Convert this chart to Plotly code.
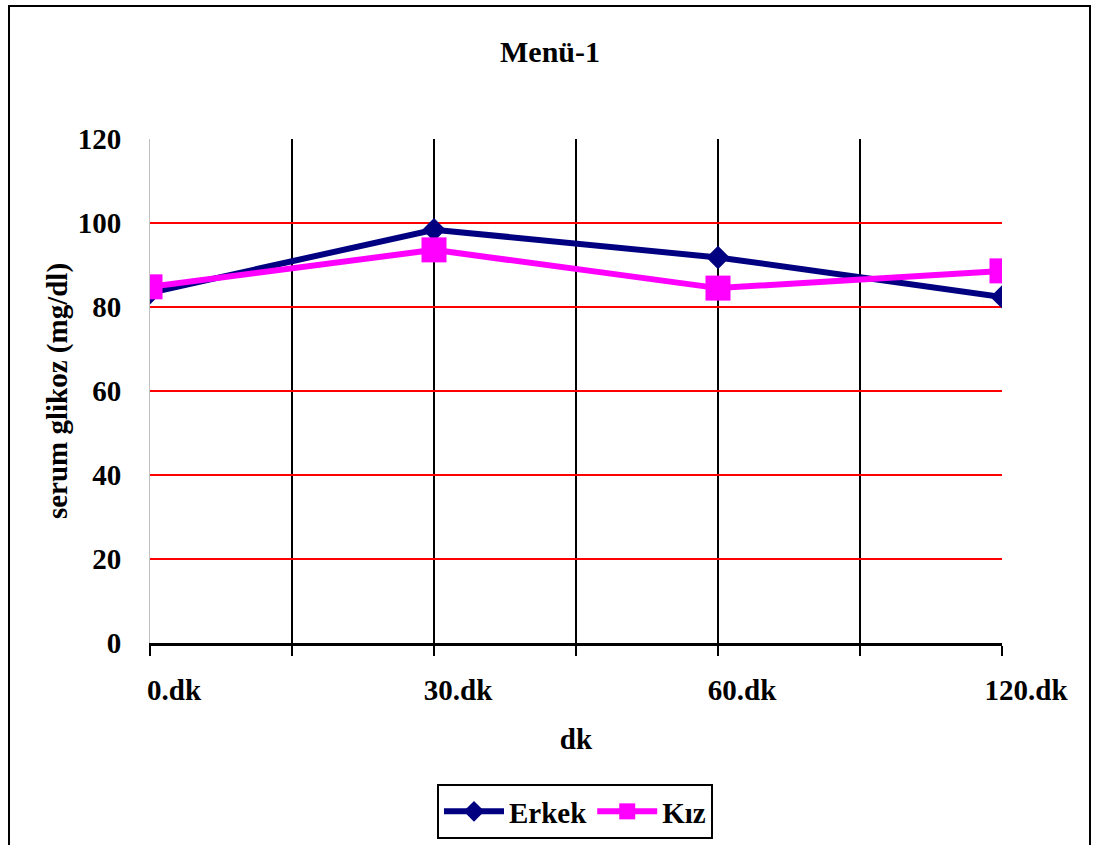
import plotly.graph_objects as go

categories = ["0.dk", "30.dk", "60.dk", "120.dk"]
erkek = [83.4, 98.4, 91.8, 82.4]
kiz = [84.8, 93.6, 84.5, 88.6]
y_ticks = [0, 20, 40, 60, 80, 100, 120]

FONT = "Liberation Serif"
W, H = 1093, 845
L, R, T, B = 150, 1093 - 1002, 139, 845 - 643
pw, ph = W - L - R, H - T - B

def px_x(px):
    return (px - L) / pw

def px_y(py):
    return (H - B - py) / ph

xpos = list(range(len(categories)))
grid_vals = [i / 2 for i in range(2 * (len(categories) - 1) + 1)]
grid_text = [categories[int(v)] if float(v).is_integer() else "" for v in grid_vals]

bold = dict(family=FONT, size=29, color="black", weight="bold")

fig = go.Figure()
fig.add_trace(go.Scatter(
    x=xpos, y=erkek, name="Erkek", mode="lines+markers",
    line=dict(color="#000080", width=6),
    marker=dict(symbol="diamond", size=18, color="#000080"),
))
fig.add_trace(go.Scatter(
    x=xpos, y=kiz, name="Kız", mode="lines+markers",
    line=dict(color="#FF00FF", width=6),
    marker=dict(symbol="square", size=25, color="#FF00FF"),
))

fig.update_layout(
    width=W, height=H,
    margin=dict(l=L, r=R, t=T, b=B, autoexpand=False),
    paper_bgcolor="white", plot_bgcolor="white",
    font=bold,
    title=dict(text="Menü-1", x=px_x(550), xanchor="center", xref="paper",
               y=1 - 51 / H, yanchor="middle", font=dict(bold, size=30)),
    showlegend=True,
    legend=dict(
        orientation="h", x=px_x(575), xanchor="center", y=px_y(784), yanchor="top",
        bordercolor="black", borderwidth=2, bgcolor="white",
        font=bold, itemwidth=60, tracegroupgap=0,
    ),
    xaxis=dict(
        range=[0, len(categories) - 1],
        tickmode="array", tickvals=grid_vals, ticktext=grid_text,
        tickfont=bold,
        showgrid=True, gridcolor="black", gridwidth=2,
        showline=True, linecolor="black", linewidth=3,
        ticks="outside", ticklen=10, tickwidth=2, tickcolor="black",
        ticklabelshift=24, ticklabelstandoff=9,
        zeroline=False,
        title=dict(text="dk", standoff=24, font=bold),
    ),
    yaxis=dict(
        range=[0, 120],
        tickmode="array", tickvals=y_ticks, ticktext=[str(v) for v in y_ticks],
        tickfont=bold,
        showgrid=True, gridcolor="#FF0000", gridwidth=2,
        showline=True, linecolor="#C0C0C0", linewidth=1,
        ticks="", ticklabelstandoff=22,
        zeroline=False,
        title=dict(text="serum glikoz (mg/dl)", standoff=1, font=bold),
    ),
)

# outer chart border
fig.add_shape(type="rect", xref="paper", yref="paper",
              x0=px_x(9), x1=px_x(1090), y0=px_y(860), y1=px_y(6),
              line=dict(color="black", width=2), fillcolor="rgba(0,0,0,0)", layer="below")

fig.write_html("out.html")
